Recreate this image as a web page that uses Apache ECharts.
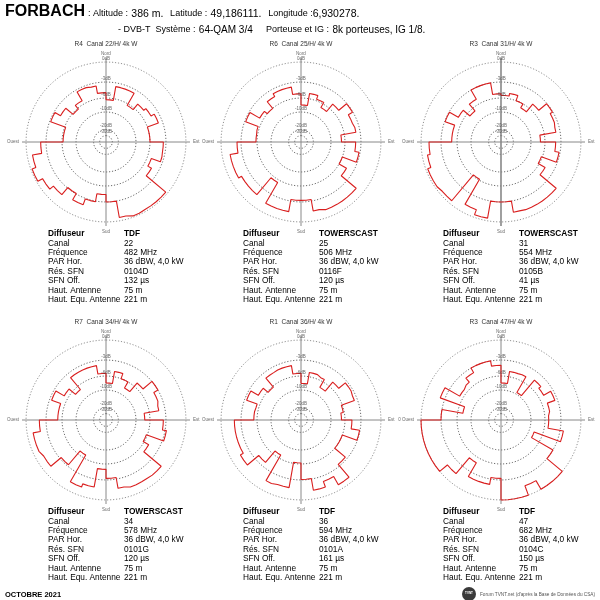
<!DOCTYPE html>
<html>
<head>
<meta charset="utf-8">
<title>FORBACH - diagrammes</title>
<script src="https://cdn.jsdelivr.net/npm/echarts@6/dist/echarts.min.js"></script>
<style>
    html, body { margin: 0; padding: 0; background: #fff; }
    #main { width: 600px; height: 600px; }
</style>
</head>
<body>
<div id="main"></div>
<script>
// titres des diagrammes
let titres = ['R4  Canal 22/H/ 4k W', 'R6  Canal 25/H/ 4k W', 'R3  Canal 31/H/ 4k W',
    'R7  Canal 34/H/ 4k W', 'R1  Canal 36/H/ 4k W', 'R3  Canal 47/H/ 4k W'];

// tableaux d'infos
let diffuseurs = ['TDF', 'TOWERSCAST', 'TOWERSCAST', 'TOWERSCAST', 'TDF', 'TDF'];
let canaux = ['22', '25', '31', '34', '36', '47'];
let frequences = ['482 MHz', '506 MHz', '554 MHz', '578 MHz', '594 MHz', '682 MHz'];
let parHor = ['36 dBW, 4,0 kW', '36 dBW, 4,0 kW', '36 dBW, 4,0 kW', '36 dBW, 4,0 kW', '36 dBW, 4,0 kW', '36 dBW, 4,0 kW'];
let resSfn = ['0104D', '0116F', '0105B', '0101G', '0101A', '0104C'];
let sfnOff = ['132 µs', '120 µs', '41 µs', '120 µs', '161 µs', '150 µs'];
let hautAntenne = ['75 m', '75 m', '75 m', '75 m', '75 m', '75 m'];
let hautEquAntenne = ['221 m', '221 m', '221 m', '221 m', '221 m', '221 m'];

// anneaux du diagramme (dB) et leur rayon relatif
let ringDb = [0, -3, -6, -10, -20, -30];
let ringLabels = ['0dB', '-3dB', '-6dB', '-10dB', '-20dB', '-30dB'];
let ringR = [1, 0.75, 0.55, 0.375, 0.155, 0.08];

// affaiblissement (dB) par secteur de 10°, de 0° (Nord) dans le sens horaire
let diag22 = [-6.5, -3.7, -3.7, -6.5, -5, -4.5, -3.8, -6, -6, -3.5, -3.4, -5.2, -4.4, -0.3, -0.3, -0.2, -0.5, -3,
    -4.4, -2.9, -2, -3.1, -1.7, -1, -0.2, -0.8, -2.2, -6.3, -6.3, -3.2, -4.4, -6.3, -5.3, -3.4, -3.6, -5];
let diag25 = [-8, -5, -5.7, -7.2, -5, -3.1, -4, -3.8, -7, -4, -3.2, -6, -4.4, -1.2, -1.2, -1.2, -1.5, -3.3,
    -3.3, -1.4, -1.4, -5.5, -1.7, -1.7, -1.2, -1.2, -2.4, -5.8, -5.7, -3.2, -5.3, -6, -4.4, -3.8, -3.8, -5.2];
let diag31 = [-5.5, -5, -6, -7.3, -5, -3.1, -3.6, -3.8, -7.3, -4, -3.2, -6.3, -4.7, -1.2, -1.2, -1.2, -1.3, -3,
    -3, -0.4, -1.2, -6.3, -0.5, -0.3, -0.3, -0.8, -1.2, -5, -5, -3.1, -5, -7, -5, -3, -3, -5.2];
let diag34 = [-8, -5, -6, -8, -5.2, -3, -3.9, -4.2, -7.5, -3.5, -2.8, -6.3, -5, -1.2, -1.3, -1.3, -1.6, -3.3,
    -5, -1.8, -1.3, -7, -3.3, -1.2, -0.9, -0.9, -2, -5.2, -5.2, -3.4, -5.2, -7.2, -3.9, -3.9, -3.9, -5.5];
let diag36 = [-8.1, -5.2, -5.5, -7.8, -5, -3.4, -3.6, -6.3, -7, -4.7, -3.1, -6, -6, -3.4, -0.8, -2.2, -1.3, -3.1,
    -6.3, -1.7, -1.5, -7, -3.9, -1.5, -2, -2, -2, -5.4, -5.5, -3.4, -5, -6.3, -4, -3.9, -3.9, -5.5];
let diag47 = [-8, -5, -4.9, -9.5, -4.5, -5, -3.5, -5, -5.3, -5.3, -2.5, -8.5, -3, 0, 0, -1.5, 0, 0,
    -3.3, -2.2, -2.2, -5, -1.5, 0, 0, 0, 0, -3, -7.5, -2.3, -5.3, -5, -4, -3, -3, -4];
let diagrammes = [diag22, diag25, diag31, diag34, diag36, diag47];
let ouestLabels = ['Ouest', 'Ouest', 'Ouest', 'Ouest', 'Ouest', '0 Ouest'];

let FONT = "'Liberation Sans', Arial, sans-serif";
let centres = [[106, 142], [301, 142], [501, 142], [106, 420], [301, 420], [501, 420]];

/**
 * dB -> rayon relatif (interpolation entre les anneaux)
 */
function dbToR(db) {
    for (let i = 0; i < ringDb.length - 1; i++) {
        if (db <= ringDb[i] && db >= ringDb[i + 1]) {
            let t = (ringDb[i] - db) / (ringDb[i] - ringDb[i + 1]);
            return ringR[i] + t * (ringR[i + 1] - ringR[i]);
        }
    }
    return ringR[ringR.length - 1];
}

/**
 * trace en escalier du diagramme
 */
function stepData(values) {
    let pts = [];
    for (let i = 0; i < values.length; i++) {
        let r = dbToR(values[i]);
        pts.push([r, i * 10], [r, i * 10 + 5], [r, i * 10 + 10]);
    }
    pts.push([dbToR(values[0]), 360]);
    return pts;
}

let polar = [], angleAxis = [], radiusAxis = [], series = [], graphic = [];

for (let k = 0; k < 6; k++) {
    polar.push({center: centres[k], radius: 88});
    angleAxis.push({
        polarIndex: k, type: 'value', min: 0, max: 360, startAngle: 90, clockwise: true,
        axisLine: {show: false}, axisTick: {show: false}, axisLabel: {show: false}, splitLine: {show: false}
    });
    radiusAxis.push({
        polarIndex: k, type: 'value', min: 0, max: 1.1,
        axisLine: {show: false}, axisTick: {show: false}, axisLabel: {show: false}, splitLine: {show: false}
    });
    // anneaux pointillés
    for (let j = 0; j < ringR.length; j++) {
        let ring = [];
        for (let a = 0; a <= 360; a += 5) {
            ring.push([ringR[j], a]);
        }
        series.push({
            type: 'line', coordinateSystem: 'polar', polarIndex: k, data: ring, symbol: 'none', silent: true, z: 1,
            lineStyle: {color: j === 0 ? '#777' : '#444', width: 0.8, type: [1.2, 1.8]}
        });
    }
    // axes N-S et E-O
    series.push({
        type: 'line', coordinateSystem: 'polar', polarIndex: k, data: [[1.05, 0], [1.05, 180]],
        symbol: 'none', silent: true, z: 2, lineStyle: {color: '#888', width: k === 2 ? 1.6 : 1}
    });
    series.push({
        type: 'line', coordinateSystem: 'polar', polarIndex: k, data: [[1.05, 90], [1.05, 270]],
        symbol: 'none', silent: true, z: 2, lineStyle: {color: '#888', width: 1}
    });
    // diagramme
    series.push({
        type: 'line', coordinateSystem: 'polar', polarIndex: k, data: stepData(diagrammes[k]),
        symbol: 'none', silent: true, z: 5, lineStyle: {color: '#d91e1e', width: 1.1}
    });
    // libellés
    let labels = [
        {value: [1.0, 0], name: 'Nord', label: {position: 'top', distance: 5}},
        {value: [1.07, 90], name: 'Est', label: {position: 'right', distance: 1}},
        {value: [1.07, 180], name: 'Sud', label: {position: 'bottom', distance: 1}},
        {value: [1.07, 270], name: ouestLabels[k], label: {position: 'left', distance: 1}}
    ];
    for (let j = 0; j < ringR.length; j++) {
        labels.push({value: [ringR[j], 0], name: ringLabels[j], label: {position: 'top', distance: 0.5}});
    }
    series.push({
        type: 'scatter', coordinateSystem: 'polar', polarIndex: k, data: labels, symbolSize: 1, silent: true, z: 6,
        itemStyle: {color: 'rgba(0,0,0,0)'},
        label: {show: true, formatter: '{b}', fontSize: 4.5, fontFamily: FONT, color: '#444'}
    });

    // titre
    let cx = centres[k][0], cy = centres[k][1];
    graphic.push({
        type: 'text', x: cx, y: cy - 98,
        style: {text: titres[k], font: '6.5px ' + FONT, fill: '#333', textAlign: 'center', textVerticalAlign: 'middle'}
    });
    // tableau
    let rows = [
        ['Diffuseur', diffuseurs[k]], ['Canal', canaux[k]], ['Fréquence', frequences[k]],
        ['PAR Hor.', parHor[k]], ['Rés. SFN', resSfn[k]], ['SFN Off.', sfnOff[k]],
        ['Haut. Antenne', hautAntenne[k]], ['Haut. Equ. Antenne', hautEquAntenne[k]]
    ];
    for (let r = 0; r < rows.length; r++) {
        let f = (r === 0 ? 'bold ' : '') + '8.3px ' + FONT;
        let y = cy + 92 + r * 9.4;
        graphic.push({type: 'text', x: cx - 58, y: y,
            style: {text: rows[r][0], font: f, fill: '#000', textVerticalAlign: 'middle'}});
        graphic.push({type: 'text', x: cx + 18, y: y,
            style: {text: rows[r][1], font: f, fill: '#000', textVerticalAlign: 'middle'}});
    }
}

// en-tête
graphic.push({type: 'text', x: 5, y: 12,
    style: {text: 'FORBACH', font: 'bold 16px ' + FONT, fill: '#000', textVerticalAlign: 'middle'}});
graphic.push({type: 'text', x: 88, y: 14,
    style: {
        text: '{a|: Altitude :} {b|386 m.}  {a|Latitude :} {b|49,186111.}  {a|Longitude :}{b|6,930278.}',
        textVerticalAlign: 'middle',
        rich: {a: {font: '9px ' + FONT, fill: '#000'}, b: {font: '10.5px ' + FONT, fill: '#000'}}
    }});
graphic.push({type: 'text', x: 118, y: 30,
    style: {
        text: '{a|- DVB-T  Système :} {b|64-QAM 3/4}    {a|Porteuse et IG :} {b|8k porteuses, IG 1/8.}',
        textVerticalAlign: 'middle',
        rich: {a: {font: '9px ' + FONT, fill: '#000'}, b: {font: '10px ' + FONT, fill: '#000'}}
    }});

// pied de page
graphic.push({type: 'text', x: 5, y: 595,
    style: {text: 'OCTOBRE 2021', font: 'bold 7.5px ' + FONT, fill: '#000', textVerticalAlign: 'middle'}});
graphic.push({type: 'circle', shape: {cx: 469, cy: 594, r: 7}, style: {fill: '#3a3a3a'}});
graphic.push({type: 'text', x: 469, y: 593,
    style: {text: 'TVNT', font: 'bold 3px ' + FONT, fill: '#fff', textAlign: 'center', textVerticalAlign: 'middle'}});
graphic.push({type: 'text', x: 480, y: 595,
    style: {text: "Forum TVNT.net (d'après la Base de Données du CSA)", font: '4.7px ' + FONT, fill: '#555', textVerticalAlign: 'middle'}});

let myChart = echarts.init(document.getElementById('main'));
myChart.setOption({
    animation: false,
    backgroundColor: '#fff',
    polar: polar,
    angleAxis: angleAxis,
    radiusAxis: radiusAxis,
    series: series,
    graphic: graphic
});
</script>
</body>
</html>
